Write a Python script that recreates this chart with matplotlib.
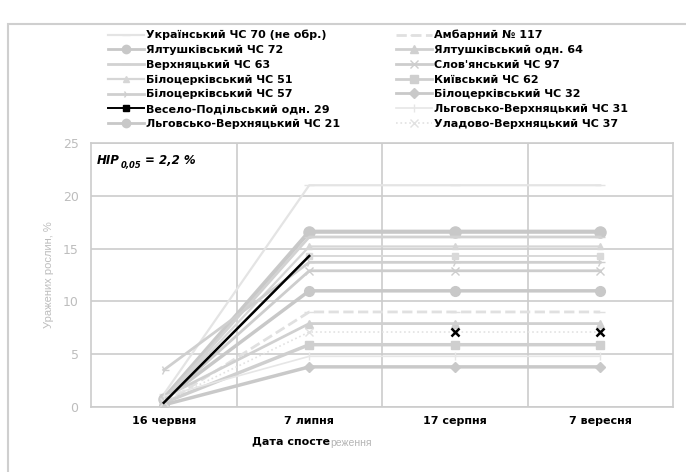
import numpy as np
import matplotlib
matplotlib.use('Agg')
from matplotlib import pyplot as plt
from matplotlib.lines import Line2D
from matplotlib.patches import Rectangle

dates = ['16 червня', '7 липня', '17 серпня', '7 вересня']

names_left = ['Український ЧС 70 (не обр.)', 'Ялтушківський ЧС 72', 'Верхняцький ЧС 63',
              'Білоцерківський ЧС 51', 'Білоцерківський ЧС 57', 'Весело-Подільський одн. 29',
              'Льговсько-Верхняцький ЧС 21']
names_right = ['Амбарний № 117', 'Ялтушківський одн. 64', "Слов'янський ЧС 97",
               'Київський ЧС 62', 'Білоцерківський ЧС 32', 'Льговсько-Верхняцький ЧС 31',
               'Уладово-Верхняцький ЧС 37']

# % of damaged plants per date
values = {
    'Український ЧС 70 (не обр.)': [1.2, 21.0, 21.0, 21.0],
    'Ялтушківський ЧС 72': [0.8, 16.6, 16.6, 16.6],
    'Верхняцький ЧС 63': [0.6, 16.1, 16.1, 16.1],
    'Білоцерківський ЧС 51': [0.5, 15.2, 15.2, 15.2],
    'Білоцерківський ЧС 57': [3.5, 13.7, 13.7, 13.7],
    'Весело-Подільський одн. 29': [0.4, 14.3, 14.3, 14.3],
    'Льговсько-Верхняцький ЧС 21': [0.7, 11.0, 11.0, 11.0],
    'Амбарний № 117': [0.3, 9.0, 9.0, 9.0],
    'Ялтушківський одн. 64': [0.9, 7.9, 7.9, 7.9],
    "Слов'янський ЧС 97": [0.6, 12.9, 12.9, 12.9],
    'Київський ЧС 62': [0.4, 5.9, 5.9, 5.9],
    'Білоцерківський ЧС 32': [0.2, 3.8, 3.8, 3.8],
    'Льговсько-Верхняцький ЧС 31': [1.0, 4.8, 4.8, 4.8],
    'Уладово-Верхняцький ЧС 37': [0.5, 7.1, 7.1, 7.1],
}

styles = {
    'Український ЧС 70 (не обр.)': dict(color='#e4e4e4', marker='_', ms=7, lw=1.6),
    'Ялтушківський ЧС 72': dict(color='#c8c8c8', marker='o', ms=8, lw=3),
    'Верхняцький ЧС 63': dict(color='#d2d2d2', marker='_', ms=7, lw=2),
    'Білоцерківський ЧС 51': dict(color='#d6d6d6', marker='^', ms=5, lw=1.6),
    'Білоцерківський ЧС 57': dict(color='#cfcfcf', marker='4', ms=7, lw=2),
    'Весело-Подільський одн. 29': dict(color='#d9d9d9', marker='s', ms=4, lw=1.4),
    'Льговсько-Верхняцький ЧС 21': dict(color='#c8c8c8', marker='o', ms=7, lw=2.5),
    'Амбарний № 117': dict(color='#e0e0e0', marker='_', ms=7, lw=2, ls='--'),
    'Ялтушківський одн. 64': dict(color='#d0d0d0', marker='^', ms=6, lw=2),
    "Слов'янський ЧС 97": dict(color='#cdcdcd', marker='x', ms=6, lw=2),
    'Київський ЧС 62': dict(color='#cfcfcf', marker='s', ms=6, lw=2.5),
    'Білоцерківський ЧС 32': dict(color='#c9c9c9', marker='D', ms=5, lw=2.5),
    'Льговсько-Верхняцький ЧС 31': dict(color='#e6e6e6', marker='|', ms=6, lw=1.2),
    'Уладово-Верхняцький ЧС 37': dict(color='#e2e2e2', marker='x', ms=6, lw=1.2, ls=':'),
}

font = 'DejaVu Sans'

fig = plt.figure(figsize=(6.86, 4.72), dpi=100)
fig.patches.append(Rectangle((8 / 686, -0.1), 1.1, (460 - 12) / 472 + 0.1,
                             transform=fig.transFigure, fill=False,
                             edgecolor='#cfcfcf', lw=1.5))
ax = fig.add_axes([91 / 686, 1 - 407 / 472, (673 - 91) / 686, (407 - 143) / 472])

x = np.arange(len(dates))
for name in names_left + names_right:
    st = styles[name]
    ax.plot(x, values[name], color=st['color'], marker=st['marker'],
            ms=st['ms'], lw=st['lw'], ls=st.get('ls', '-'),
            mec=st['color'], mfc=st['color'], zorder=3)

# black streaks of the scan (first interval of Весело-Подільський)
vp = values['Весело-Подільський одн. 29']
ax.plot(x[:2], vp[:2], color='black', lw=1.8, zorder=4)
sl = values['Уладово-Верхняцький ЧС 37']
ax.plot(x[2:], sl[2:], ls='none', marker='x', color='black', ms=6, mew=1.8, zorder=5)

ax.set_xlim(-0.5, 3.5)
ax.set_ylim(0, 25)
ax.set_yticks([0, 5, 10, 15, 20, 25])
ax.set_xticks(x)
ax.set_xticklabels(dates, fontsize=8, fontweight='bold', family=font)
ax.tick_params(axis='both', length=0)
ax.tick_params(axis='y', labelcolor='#bdbdbd', labelsize=9, pad=9)
ax.tick_params(axis='x', pad=6.5)
ax.set_xticks([0.5, 1.5, 2.5], minor=True)
ax.tick_params(axis='x', which='minor', length=0)
ax.grid(axis='y', color='#cccccc', lw=1.2)
ax.grid(axis='x', which='minor', color='#cccccc', lw=1.2)
for s in ax.spines.values():
    s.set_color('#cccccc')
    s.set_linewidth(1.2)
ax.set_axisbelow(True)

ax.set_ylabel('Уражених рослин, %', color='#bdbdbd', fontsize=8,
              family='Liberation Sans', labelpad=6)

fig.text(330 / 686, 1 - 441 / 472, 'Дата спосте', ha='right', va='center',
         fontsize=8, fontweight='bold', family=font)
fig.text(330 / 686, 1 - 443 / 472, 'реження', ha='left', va='center',
         fontsize=7.5, color='#b5b5b5', family='Liberation Sans')

fig.text(97 / 686, 1 - 160 / 472, 'HIP', fontsize=8.5, fontweight='bold',
         fontstyle='italic', family=font, va='center')
fig.text(121 / 686, 1 - 165 / 472, '0,05', fontsize=6, fontweight='bold',
         fontstyle='italic', family=font, va='center')
fig.text(145 / 686, 1 - 160 / 472, '= 2,2 %', fontsize=8.5, fontweight='bold',
         fontstyle='italic', family=font, va='center')

leg_kw = dict(frameon=False, handlelength=3.2, handletextpad=0.2,
              labelspacing=0.42, borderpad=0, borderaxespad=0, loc='upper left',
              prop={'family': font, 'weight': 'bold', 'size': 8})


def legend_handles(names):
    out = []
    for n in names:
        st = styles[n]
        c = 'black' if n == 'Весело-Подільський одн. 29' else st['color']
        out.append(Line2D([], [], color=c, marker=st['marker'], ms=min(st['ms'], 6),
                          lw=min(st['lw'], 2), ls=st.get('ls', '-'), mec=c, mfc=c))
    return out


fig.legend(legend_handles(names_left), names_left,
           bbox_to_anchor=(108 / 686, 1 - 30 / 472), **leg_kw)
fig.legend(legend_handles(names_right), names_right,
           bbox_to_anchor=(396 / 686, 1 - 30 / 472), **leg_kw)

plt.savefig('out.png', dpi=100)
